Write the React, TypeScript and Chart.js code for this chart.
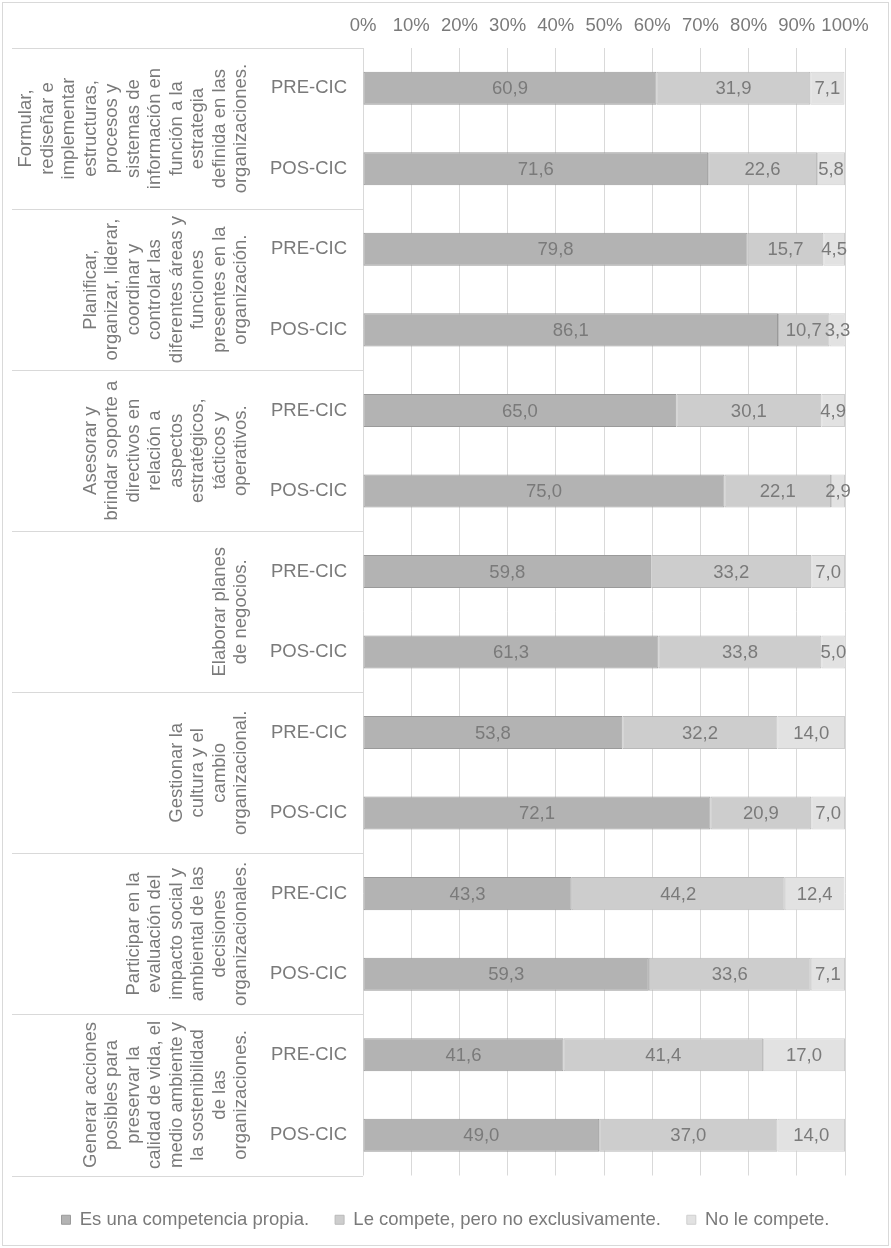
import React, { useEffect, useRef } from 'react';
import { Chart, registerables } from 'chart.js';

Chart.register(...registerables);

// ---------- DATA ----------
const groupLabels: string[][] = [
  ['Formular,', 'rediseñar e', 'implementar', 'estructuras,', 'procesos y', 'sistemas de', 'información en', 'función a la', 'estrategia', 'definida en las', 'organizaciones.'],
  ['Planificar,', 'organizar, liderar,', 'coordinar y', 'controlar las', 'diferentes áreas y', 'funciones', 'presentes en la', 'organización.'],
  ['Asesorar y', 'brindar soporte a', 'directivos en', 'relación a', 'aspectos', 'estratégicos,', 'tácticos y', 'operativos.'],
  ['Elaborar planes', 'de negocios.'],
  ['Gestionar la', 'cultura y el', 'cambio', 'organizacional.'],
  ['Participar en la', 'evaluación del', 'impacto social y', 'ambiental de las', 'decisiones', 'organizacionales.'],
  ['Generar acciones', 'posibles para', 'preservar la', 'calidad de vida, el', 'medio ambiente y', 'la sostenibilidad', 'de las', 'organizaciones.'],
];

const periodLabels = [
  'PRE-CIC', 'POS-CIC', 'PRE-CIC', 'POS-CIC', 'PRE-CIC', 'POS-CIC', 'PRE-CIC',
  'POS-CIC', 'PRE-CIC', 'POS-CIC', 'PRE-CIC', 'POS-CIC', 'PRE-CIC', 'POS-CIC',
];

const seriesNames = [
  'Es una competencia propia.',
  'Le compete, pero no exclusivamente.',
  'No le compete.',
];

const propia = [60.9, 71.6, 79.8, 86.1, 65.0, 75.0, 59.8, 61.3, 53.8, 72.1, 43.3, 59.3, 41.6, 49.0];
const noExclusiva = [31.9, 22.6, 15.7, 10.7, 30.1, 22.1, 33.2, 33.8, 32.2, 20.9, 44.2, 33.6, 41.4, 37.0];
const noCompete = [7.1, 5.8, 4.5, 3.3, 4.9, 2.9, 7.0, 5.0, 14.0, 7.0, 12.4, 7.1, 17.0, 14.0];

const xMin = 0;
const xMax = 100;
const xStep = 10;

// ---------- STYLE ----------
const FONT = '"Liberation Sans", Arial, Helvetica, sans-serif';
const FS = 18.5;
const TEXT = '#7a7a7a';
const GRID = '#d9d9d9';
const fills = ['#b3b3b3', '#cdcdcd', '#e2e2e2'];
const borders = ['#9a9a9a', '#b9b9b9', '#cfcfcf'];

const W = 891;
const H = 1248;
const PLOT_LEFT = 363;
const RIGHT_GAP = 46;

const decoPlugin = {
  id: 'deco',
  afterDraw(chart: any) {
    const { ctx, chartArea } = chart;
    const y = chart.scales.y;
    ctx.save();
    // outer border
    ctx.strokeStyle = GRID;
    ctx.lineWidth = 1;
    ctx.strokeRect(2.5, 2.5, W - 5, H - 5);

    // group boundaries
    const n = groupLabels.length;
    const bounds: number[] = [];
    for (let g = 0; g <= n; g++) {
      if (g === 0) bounds.push(chartArea.top);
      else if (g === n) bounds.push(chartArea.bottom);
      else bounds.push((y.getPixelForValue(2 * g - 1) + y.getPixelForValue(2 * g)) / 2);
    }
    ctx.strokeStyle = GRID;
    ctx.beginPath();
    for (const b of bounds) {
      const yy = Math.round(b) + 0.5;
      ctx.moveTo(12, yy);
      ctx.lineTo(chartArea.left, yy);
    }
    ctx.stroke();

    // group labels, rotated
    ctx.fillStyle = TEXT;
    ctx.font = `${FS}px ${FONT}`;
    ctx.textAlign = 'center';
    ctx.textBaseline = 'middle';
    const lineH = 21.5;
    for (let g = 0; g < n; g++) {
      const cy = (bounds[g] + bounds[g + 1]) / 2;
      const lines = groupLabels[g];
      for (let i = 0; i < lines.length; i++) {
        const x = chartArea.left - 122 - (lines.length - 1 - i) * lineH;
        ctx.save();
        ctx.translate(x, cy);
        ctx.rotate(-Math.PI / 2);
        ctx.fillText(lines[i], 0, 0);
        ctx.restore();
      }
    }
    ctx.restore();
  },
  afterDatasetsDraw(chart: any) {
    const { ctx } = chart;
    ctx.save();
    ctx.fillStyle = TEXT;
    ctx.font = `${FS}px ${FONT}`;
    ctx.textAlign = 'center';
    ctx.textBaseline = 'middle';
    chart.data.datasets.forEach((ds: any, di: number) => {
      const meta = chart.getDatasetMeta(di);
      meta.data.forEach((bar: any, i: number) => {
        const v = ds.data[i];
        const cx = (bar.x + bar.base) / 2;
        ctx.fillText(v.toFixed(1).replace('.', ','), cx, bar.y + 1);
      });
    });
    ctx.restore();
  },
};

export default function App() {
  const ref = useRef<HTMLCanvasElement | null>(null);

  useEffect(() => {
    const canvas = ref.current;
    if (!canvas) return;
    const seriesValues = [propia, noExclusiva, noCompete];
    const chart = new Chart(canvas, {
      type: 'bar',
      data: {
        labels: periodLabels,
        datasets: seriesValues.map((vals, i) => ({
          label: seriesNames[i],
          data: vals,
          backgroundColor: fills[i],
          borderColor: borders[i],
          borderWidth: 1,
          borderSkipped: false,
          barPercentage: 0.41,
          categoryPercentage: 1,
        })),
      },
      options: {
        indexAxis: 'y',
        responsive: false,
        animation: false,
        devicePixelRatio: 1,
        layout: { padding: { left: 0, right: 0, top: 0, bottom: 9 } },
        scales: {
          x: {
            position: 'top',
            stacked: true,
            min: xMin,
            max: xMax,
            ticks: {
              stepSize: xStep,
              padding: 11,
              autoSkip: false,
              maxRotation: 0,
              minRotation: 0,
              color: TEXT,
              font: { family: FONT, size: FS },
              callback: (v: any) => `${v}%`,
            },
            grid: { color: GRID, drawTicks: false, lineWidth: 1 },
            border: { display: false },
            afterFit: (s: any) => { s.height = 48; },
          },
          y: {
            stacked: true,
            ticks: {
              padding: 16,
              color: TEXT,
              font: { family: FONT, size: FS },
            },
            grid: { display: false, drawTicks: false },
            border: { display: false },
            afterFit: (s: any) => { s.width = PLOT_LEFT; },
          },
          yRight: {
            type: 'category',
            position: 'right',
            labels: periodLabels,
            ticks: { display: false },
            grid: { display: false, drawTicks: false },
            border: { display: false },
            afterFit: (s: any) => { s.width = RIGHT_GAP; },
          },
        },
        plugins: {
          legend: {
            position: 'bottom',
            title: {
              display: true,
              text: ' ',
              font: { family: FONT, size: 5, lineHeight: 1 },
              padding: { top: 2, bottom: 2 },
            },
            labels: {
              boxWidth: 9,
              boxHeight: 9,
              padding: 26,
              color: TEXT,
              font: { family: FONT, size: FS },
            },
          },
          tooltip: { enabled: false },
        },
      },
      plugins: [decoPlugin],
    } as any);
    return () => chart.destroy();
  }, []);

  return (
    <div style={{ position: 'absolute', left: 0, top: 0, width: W, height: H, background: '#fff' }}>
      <canvas ref={ref} width={W} height={H} style={{ display: 'block', width: W, height: H }} />
    </div>
  );
}
